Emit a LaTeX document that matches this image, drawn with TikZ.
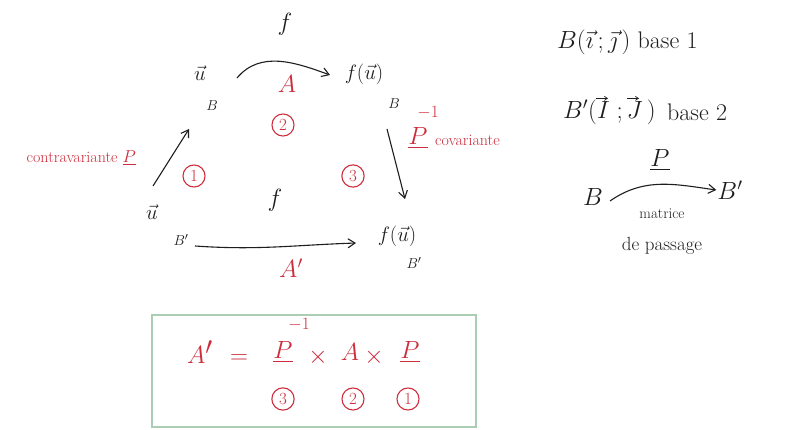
\documentclass[tikz,border=0pt]{standalone}
\usepackage{amsmath}
\usetikzlibrary{arrows.meta,calc}
\definecolor{ink}{RGB}{30,30,30}
\definecolor{rouge}{RGB}{205,45,60}
\definecolor{vert}{RGB}{170,205,180}
\tikzset{
  blk/.style={text=ink, inner sep=1pt, font=\fontsize{22}{24}\selectfont},
  big/.style={text=ink, inner sep=1pt, font=\fontsize{28}{30}\selectfont},
  leg/.style={text=ink, inner sep=1pt, font=\fontsize{24}{26}\selectfont},
  red/.style={text=rouge, inner sep=1pt, font=\fontsize{24}{26}\selectfont},
  fred/.style={text=rouge, inner sep=1pt, font=\fontsize{36}{38}\selectfont},
  redsm/.style={text=rouge, inner sep=1pt, font=\fontsize{16}{18}\selectfont},
  sub/.style={text=ink, inner sep=1pt, font=\fontsize{15}{17}\selectfont},
  circ/.style={circle, draw=rouge, text=rouge, line width=1.1pt, inner sep=3pt, font=\fontsize{17}{18}\selectfont},
  arr/.style={draw=ink, line width=1.1pt, -{Straight Barb[length=7pt,width=9pt]}},
  vecarr/.style={draw=ink, line width=0.7pt, -{Straight Barb[length=3pt,width=4pt]}},
}
\begin{document}
\begin{tikzpicture}[x=1pt,y=-1pt]
\useasboundingbox[fill=white] (0,0) rectangle (796,430);
% top row
\node[big] (ftop) at (285,24) {$f$};
\node[blk] (u) at (200,73) {$\vec u$};
\node[sub] (ub) at (212,106) {$B$};
\node[blk] (fu) at (364,74) {$f(\vec u)$};
\node[sub] (fub) at (394,104) {$B$};
\node[red] (A) at (287,84) {$A$};
\node[circ] (c2) at (283,125) {2};
\coordinate (t1) at (237,78);
\coordinate (t2) at (330,75);
\draw[arr] (t1) to[out=50,in=160] (t2);
% left arrow
\node[blk] (u2) at (152,212) {$\vec u$};
\node[sub] (u2b) at (181,240) {$B'$};
\coordinate (la0) at (153,186);
\coordinate (la) at (189,129);
\draw[arr] (la0) -- (la);
\node[circ] (c1) at (194,176) {1};
\node[redsm, anchor=east] (contra) at (137,158) {contravariante $\underline{P}$};
% right arrow
\node[blk] (fu2) at (397,236) {$f(\vec u)$};
\node[sub] (fu2b) at (414,263) {$B'$};
\coordinate (ra) at (387,129);
\coordinate (ra1) at (405,199);
\draw[arr] (ra) -- (ra1);
\node[circ] (c3) at (353,176) {3};
\node[red] (pinv) at (418,138) {$\underline{P}$};
\node[redsm] (pexp) at (428,113) {$-1$};
\node[redsm, anchor=west] (cov) at (434,140) {covariante};
% bottom arrow
\node[big] (fbot) at (275,200) {$f$};
\coordinate (b0) at (195,246);
\coordinate (b1) at (356,243);
\draw[arr] (b0) to[out=-4,in=182] (b1);
\node[red] (Ap) at (291,268) {$A'$};
% right legend
\node[leg, anchor=west] (l1) at (556,42) {$B(\vec\imath\,;\vec\jmath\,)$ base 1};
\node[leg, anchor=west] (l2a) at (562,112) {$B'(I\;;J\,)$};
\draw[vecarr] ($(l2a.north west)+(34,0)$) -- ++(12,0);
\draw[vecarr] ($(l2a.north west)+(65,0)$) -- ++(12,0);
\node[leg, anchor=west] (l2b) at (666,112) {base 2};
\node[leg] (pl) at (660,160) {$\underline{P}$};
\node[leg] (bb) at (593,197) {$B$};
\node[leg] (bbp) at (730,190) {$B'$};
\coordinate (lb0) at (610,201);
\draw[arr] (lb0) to[out=35,in=172] (bbp.west);
\node[sub] (mat) at (662,214) {matrice};
\node[text=ink, inner sep=1pt, font=\fontsize{19}{20}\selectfont] (pass) at (662,246) {de passage};
% formula box
\draw[vert, line width=1.3pt] (152,315) rectangle (476,427);
\node[fred] (fA) at (200,352) {$A'$};
\node[fred] (feq) at (239,359) {$=$};
\node[fred] (fP1) at (283,352) {$\underline{P}$};
\node[redsm] (fexp) at (299,325) {$-1$};
\node[red] (fx1) at (318,357) {$\times$};
\node[fred] (fA2) at (350,352) {$A$};
\node[red] (fx2) at (374,357) {$\times$};
\node[fred] (fP2) at (410,352) {$\underline{P}$};
\node[circ] (f3) at (283,399) {3};
\node[circ] (f2) at (353,399) {2};
\node[circ] (f1) at (408,399) {1};
\end{tikzpicture}
\end{document}
